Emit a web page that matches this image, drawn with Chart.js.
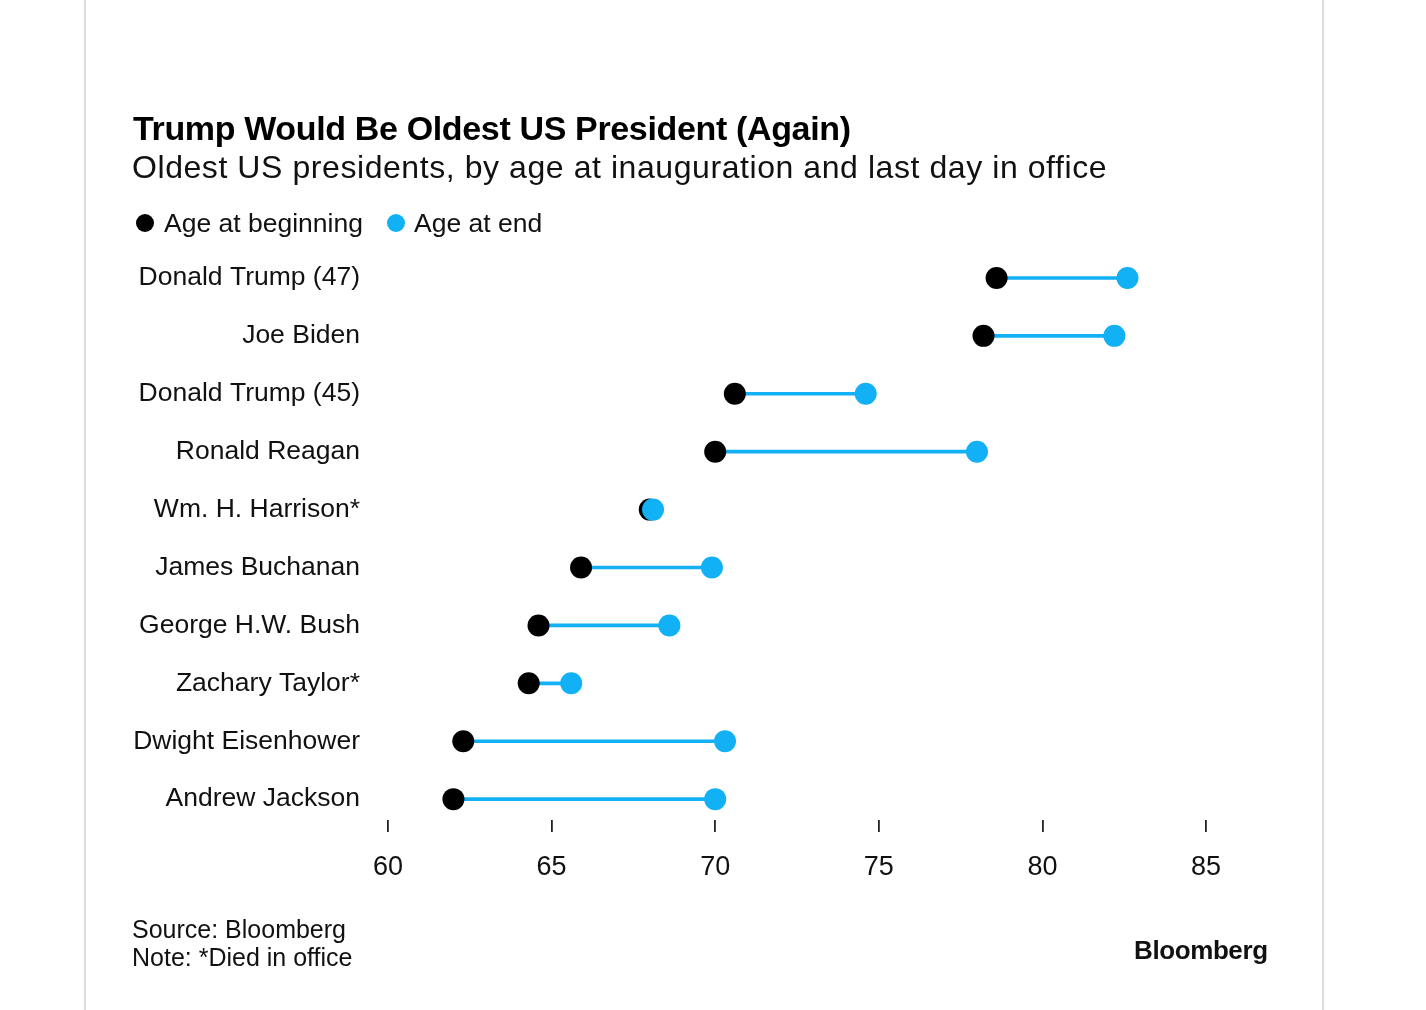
<!DOCTYPE html>
<html>
<head>
<meta charset="utf-8">
<title>Trump Would Be Oldest US President (Again)</title>
<script src="https://cdn.jsdelivr.net/npm/chart.js@4.4.1/dist/chart.umd.min.js"></script>
<style>
  body {
    margin: 0;
    background: #fff;
    font-family: "Liberation Sans", Arial, sans-serif;
    color: #000;
  }
  #page {
    position: relative;
    width: 1426px;
    height: 1010px;
    overflow: hidden;
  }
  .edge {
    position: absolute;
    top: 0;
    width: 2px;
    height: 1010px;
    background: #dcdcdc;
  }
  #chartBox {
    position: absolute;
    left: 0;
    top: 0;
    width: 1426px;
    height: 1010px;
  }
  .txt {
    position: absolute;
    white-space: nowrap;
  }
  #title {
    left: 133px;
    top: 109px;
    font-size: 34px;
    font-weight: bold;
    letter-spacing: -0.35px;
  }
  #subtitle {
    left: 132px;
    top: 149px;
    font-size: 32px;
    letter-spacing: 0.57px;
    color: #111;
  }
  .legItem {
    position: absolute;
    top: 208px;
    font-size: 26.5px;
    color: #111;
    white-space: nowrap;
  }
  .dot {
    position: absolute;
    top: 214px;
    width: 18px;
    height: 18px;
    border-radius: 50%;
  }
  #footer {
    left: 132px;
    top: 915px;
    font-size: 25px;
    line-height: 28px;
    color: #111;
  }
  #logo {
    left: 1134px;
    top: 935px;
    font-size: 26px;
    font-weight: bold;
    letter-spacing: -0.4px;
    color: #111;
  }
</style>
</head>
<body>
<div id="page">
  <div class="edge" style="left: 84px;"></div>
  <div class="edge" style="left: 1322px;"></div>
  <div id="chartBox"><canvas id="presChart"></canvas></div>
  <div class="txt" id="title">Trump Would Be Oldest US President (Again)</div>
  <div class="txt" id="subtitle">Oldest US presidents, by age at inauguration and last day in office</div>
  <div class="dot" style="left: 136px; background: #000;"></div>
  <div class="legItem" style="left: 164px;">Age at beginning</div>
  <div class="dot" style="left: 387px; background: #12b0f5;"></div>
  <div class="legItem" style="left: 414px;">Age at end</div>
  <div class="txt" id="footer">Source: Bloomberg<br>Note: *Died in office</div>
  <div class="txt" id="logo">Bloomberg</div>
</div>

<script>
// data
const presidents = [
  "Donald Trump (47)",
  "Joe Biden",
  "Donald Trump (45)",
  "Ronald Reagan",
  "Wm. H. Harrison*",
  "James Buchanan",
  "George H.W. Bush",
  "Zachary Taylor*",
  "Dwight Eisenhower",
  "Andrew Jackson",
];
const ageAtBeginning = [78.6, 78.2, 70.6, 70.0, 68.0, 65.9, 64.6, 64.3, 62.3, 62.0];
const ageAtEnd = [82.6, 82.2, 74.6, 78.0, 68.1, 69.9, 68.6, 65.6, 70.3, 70.0];
const ageTicks = [60, 65, 70, 75, 80, 85];

const blue = "#12b0f5";

document.addEventListener("DOMContentLoaded", function () {
  renderChart();
});

function renderChart() {
  const ctx = document.getElementById("presChart").getContext("2d");

  // floating bars make the connector, scatter points the two ends
  const spans = presidents.map((name, i) => ({ x: [ageAtBeginning[i], ageAtEnd[i]], y: i }));
  const starts = presidents.map((name, i) => ({ x: ageAtBeginning[i], y: i }));
  const ends = presidents.map((name, i) => ({ x: ageAtEnd[i], y: i }));

  let presChart = new Chart(ctx, {
    type: "bar",
    data: {
      datasets: [
        {
          label: "span",
          data: spans,
          indexAxis: "y",
          backgroundColor: blue,
          barThickness: 3,
          borderSkipped: false,
          order: 3,
        },
        {
          type: "scatter",
          label: "Age at beginning",
          data: starts,
          pointRadius: 11,
          pointHoverRadius: 11,
          pointBackgroundColor: "#000",
          pointBorderWidth: 0,
          order: 2,
        },
        {
          type: "scatter",
          label: "Age at end",
          data: ends,
          pointRadius: 11,
          pointHoverRadius: 11,
          pointBackgroundColor: blue,
          pointBorderWidth: 0,
          order: 1,
        },
      ],
    },
    options: {
      responsive: true,
      maintainAspectRatio: false,
      animation: false,
      layout: {
        padding: { left: 0, right: 220, top: 249, bottom: 120 },
      },
      plugins: {
        legend: { display: false },
        tooltip: { enabled: false },
      },
      scales: {
        x: {
          type: "linear",
          offset: false,
          min: ageTicks[0],
          max: ageTicks[ageTicks.length - 1],
          afterBuildTicks: function (scale) {
            scale.ticks = ageTicks.map((v) => ({ value: v }));
          },
          afterFit: function (scale) {
            scale.height = 70;
          },
          border: { display: false },
          grid: {
            offset: false,
            drawOnChartArea: false,
            drawTicks: true,
            tickLength: 12,
            tickColor: "#222",
            lineWidth: 1.8,
          },
          ticks: {
            padding: 19,
            color: "#111",
            font: { family: "Liberation Sans", size: 27 },
          },
        },
        y: {
          type: "linear",
          offset: false,
          reverse: true,
          min: -0.5,
          max: 9.36,
          afterFit: function (scale) {
            scale.width = 388;
          },
          border: { display: false },
          grid: { display: false, drawTicks: false, offset: false },
          ticks: {
            stepSize: 1,
            includeBounds: false,
            padding: 28,
            color: "#111",
            font: { family: "Liberation Sans", size: 26.5 },
            callback: function (value) {
              return presidents[value];
            },
          },
        },
      },
    },
  });
  console.log(presChart.chartArea);
}
</script>
</body>
</html>
